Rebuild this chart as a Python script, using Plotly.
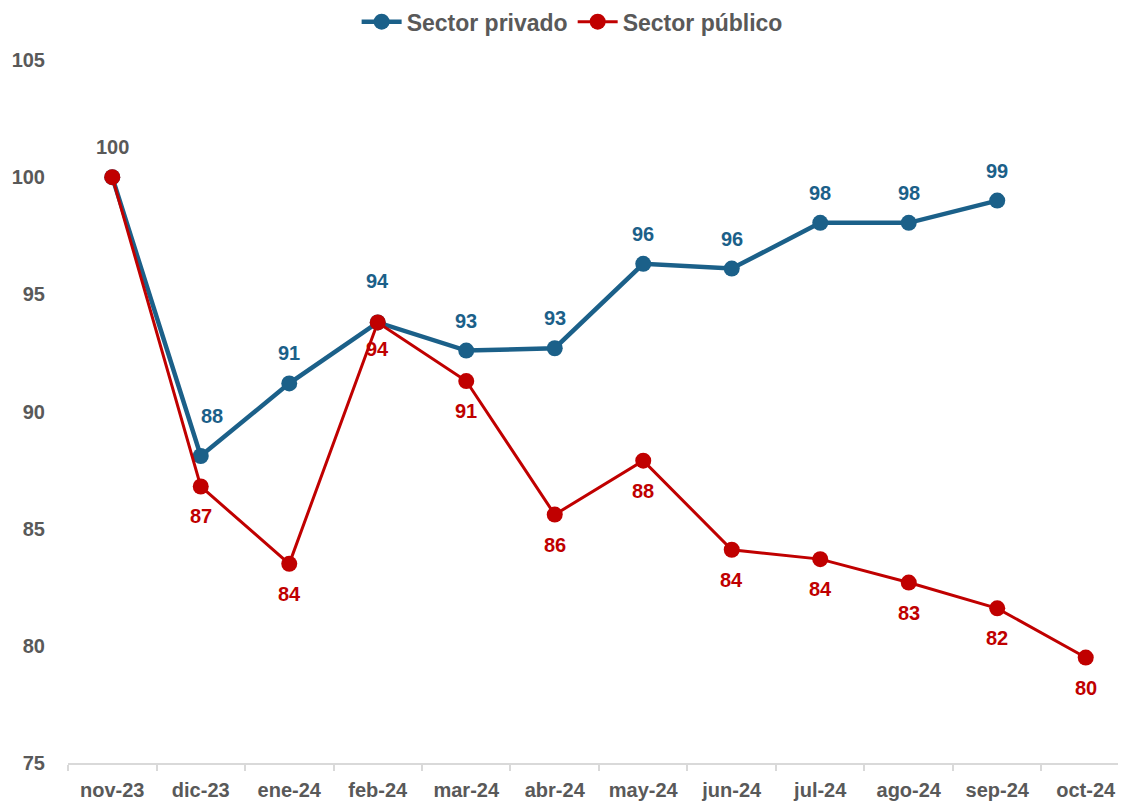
import plotly.graph_objects as go

months = ["nov-23", "dic-23", "ene-24", "feb-24", "mar-24", "abr-24", "may-24",
          "jun-24", "jul-24", "ago-24", "sep-24", "oct-24"]
privado = [100.0, 88.1, 91.2, 93.8, 92.6, 92.7, 96.3, 96.1, 98.05, 98.05, 99.0, None]
publico = [100.0, 86.8, 83.5, 93.8, 91.3, 85.6, 87.9, 84.1, 83.7, 82.7, 81.6, 79.5]

BLUE = "#1B6089"
RED = "#C00000"
GRAY = "#595959"
FONT = "Liberation Sans"

fig = go.Figure()
fig.add_trace(go.Scatter(x=months, y=privado, name="Sector privado", mode="lines+markers",
                         line=dict(color=BLUE, width=4.5), marker=dict(color=BLUE, size=16),
                         connectgaps=False))
fig.add_trace(go.Scatter(x=months, y=publico, name="Sector público", mode="lines+markers",
                         line=dict(color=RED, width=3), marker=dict(color=RED, size=16)))

extra_up = {"dic-23": 10, "feb-24": 11}
extra_right = {"dic-23": 11}
annotations = []
for i, (m, v) in enumerate(zip(months, privado)):
    if v is None:
        continue
    color = GRAY if i == 0 else BLUE
    annotations.append(dict(x=m, y=v, text=f"{round(v):d}", showarrow=False,
                            yshift=30 + extra_up.get(m, 0), xshift=extra_right.get(m, 0),
                            font=dict(family=FONT, size=20, color=color, weight="bold")))
for i, (m, v) in enumerate(zip(months, publico)):
    if i == 0:
        continue
    annotations.append(dict(x=m, y=v, text=f"{round(v):d}", showarrow=False,
                            yshift=-30 + (3 if m == "feb-24" else 0),
                            font=dict(family=FONT, size=20, color=RED, weight="bold")))

# page body has an 8px default margin; margins compensate for it
fig.update_layout(
    width=1126, height=805,
    margin=dict(l=60, r=8, t=52, b=50),
    paper_bgcolor="white", plot_bgcolor="white",
    font=dict(family=FONT, color=GRAY, size=20, weight="bold"),
    showlegend=True,
    legend=dict(orientation="h", xref="container", yref="container",
                x=0.501, xanchor="center", y=0.983, yanchor="middle",
                font=dict(family=FONT, size=23, color=GRAY, weight="bold"),
                itemwidth=40, tracegroupgap=0, borderwidth=0),
    annotations=annotations,
    xaxis=dict(type="category", range=[-0.5, 11.455], showgrid=False, automargin=False,
               showline=True, linecolor="#D9D9D9", linewidth=2,
               ticks="outside", tickson="boundaries", ticklen=6, tickcolor="#D9D9D9",
               tickwidth=2, ticklabelstandoff=8,
               tickfont=dict(family=FONT, size=20, color=GRAY, weight="bold")),
    yaxis=dict(range=[75, 105], dtick=5, tick0=75, showgrid=False, zeroline=False,
               showline=False, ticks="", ticklabelstandoff=22, automargin=False,
               tickfont=dict(family=FONT, size=20, color=GRAY, weight="bold")),
)

fig.write_html("out.html")
